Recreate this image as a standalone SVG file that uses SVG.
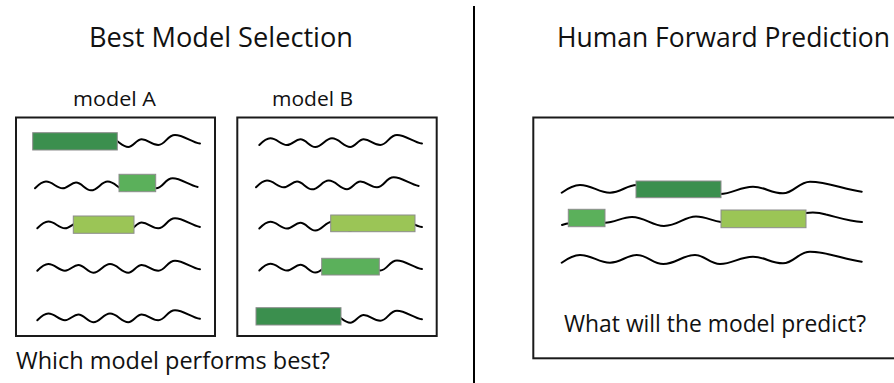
<svg xmlns="http://www.w3.org/2000/svg" xmlns:xlink="http://www.w3.org/1999/xlink" width="894" height="383" viewBox="0 0 894 383">
<style>
.box{fill:#fff;stroke:#1a1a1a;stroke-width:2}
.wave{fill:none;stroke:#000;stroke-width:2;stroke-linecap:round}
.dk{fill:#3b8f4e;stroke:#8c8c8c;stroke-width:1}
.md{fill:#5bb05b;stroke:#8c8c8c;stroke-width:1}
.lt{fill:#9bc556;stroke:#8c8c8c;stroke-width:1}
text{font-family:"Open Sans","Noto Sans","DejaVu Sans",sans-serif;fill:#111}
.title{font-size:28px}
.lbl{font-size:20px}
.q{font-size:23px}
</style>
<defs>
<path id="wA" class="wave" d="M0,0 C4,-4 7,-6.7 11,-6.7 C18,-6.7 21,0 27.7,0 C33,0 36,-5.7 41,-5.7 C47,-5.7 50,2 56,2 C63,2 66,-6.7 72.7,-6.7 C80,-6.7 84,2 91,2 C96,2 99,-5.7 104.4,-5.7 C111,-5.7 114,0 121,0 C128,0 130,-10 137.7,-10 C146,-10 154,-3 162.7,-1.4"/>
<path id="wR" class="wave" d="M0,0 C7,-5 12,-7.7 18.3,-7.7 C30,-7.7 37,0 48.3,0 C59,0 65,-7.7 75,-7.7 C86,-7.7 91,1.3 101.6,1.3 C114,1.3 121,-7.7 133.3,-7.7 C143,-7.7 148,1.3 158.3,1.3 C171,1.3 178,-6 191.3,-6 C203,-6 209,0.6 221.3,0.6 C232,0.6 237,-11 248.3,-11 C266,-11 283,-3 300,-1"/>
</defs>
<rect width="894" height="383" fill="#fff"/>
<g id="divider"><line x1="474" y1="6" x2="474" y2="383" stroke="#000" stroke-width="2"/></g>
<g id="titles">
<text class="title" x="89" y="47" textLength="264" lengthAdjust="spacingAndGlyphs">Best Model Selection</text>
<text class="title" x="557" y="47" textLength="333" lengthAdjust="spacingAndGlyphs">Human Forward Prediction</text>
</g>
<g id="modelA">
<text class="lbl" x="73" y="106" textLength="83" lengthAdjust="spacingAndGlyphs">model A</text>
<rect class="box" x="16" y="117.5" width="199" height="218.5"/>
<use href="#wA" x="37.3" y="145"/>
<use href="#wA" x="35" y="188.3"/>
<use href="#wA" x="37.3" y="228.3"/>
<use href="#wA" x="37.3" y="270.7"/>
<use href="#wA" x="37.3" y="320.2"/>
<rect class="dk" x="32.7" y="132.7" width="84.6" height="17.3"/>
<rect class="md" x="119" y="174.3" width="36.7" height="17.4"/>
<rect class="lt" x="73.3" y="216" width="60.7" height="17.3"/>
</g>
<g id="modelB">
<text class="lbl" x="272" y="106" textLength="81" lengthAdjust="spacingAndGlyphs">model B</text>
<rect class="box" x="237.3" y="117.5" width="199.4" height="218.5"/>
<use href="#wA" x="259.3" y="145"/>
<use href="#wA" x="256" y="187.3"/>
<use href="#wA" x="259.3" y="228.5"/>
<use href="#wA" x="259.3" y="270.5"/>
<use href="#wA" x="259.3" y="320.7"/>
<rect class="lt" x="330.7" y="215" width="84.3" height="16.7"/>
<rect class="md" x="321.7" y="258.3" width="57.6" height="16.7"/>
<rect class="dk" x="256" y="307.7" width="85" height="17.3"/>
</g>
<g id="question-left">
<text class="q" x="16" y="369" textLength="314" lengthAdjust="spacingAndGlyphs">Which model performs best?</text>
</g>
<g id="prediction">
<rect class="box" x="533.3" y="117.5" width="400" height="240.8"/>
<use href="#wR" x="561.7" y="192.7"/>
<path class="wave" d="M562,225 C575,220 595,223 605,222.7 C615,222.5 622,217 632,217 C645,217 652,226 664,226 C678,226 684,216.5 696,216.5 C706,216.5 712,221 721,222 L806,213 C812,212 818,212 826,214.5 C840,218 850,221.5 862,222"/>
<use href="#wR" x="561.7" y="262.7"/>
<rect class="dk" x="636" y="181" width="85" height="16.7"/>
<rect class="md" x="568.3" y="209.3" width="36.7" height="17.4"/>
<rect class="lt" x="721" y="210" width="85" height="17.7"/>
<text class="q" x="564" y="332" textLength="302" lengthAdjust="spacingAndGlyphs">What will the model predict?</text>
</g>
</svg>
